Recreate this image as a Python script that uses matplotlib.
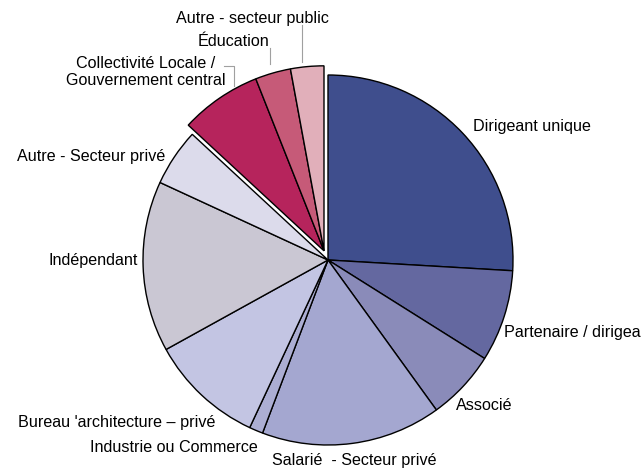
import matplotlib
matplotlib.use("Agg")
import matplotlib.pyplot as plt
import numpy as np

plt.rcParams["font.family"] = ["Liberation Sans", "DejaVu Sans"]

# share of respondents by employment status (%), clockwise from 12 o'clock
categories = [
    "Dirigeant unique",
    "Partenaire / dirigeant",
    "Associé",
    "Salarié  - Secteur privé",
    "Industrie ou Commerce",
    "Bureau 'architecture – privé",
    "Indépendant",
    "Autre - Secteur privé",
    "Collectivité Locale /\nGouvernement central",
    "Éducation",
    "Autre - secteur public",
]
values = [25.9, 8.0, 6.1, 15.7, 1.2, 10.0, 14.9, 5.0, 7.1, 3.1, 2.9]
public_sector = [False] * 8 + [True] * 3

colors = ["#3f4e8d", "#6468a0", "#8a8bb9", "#a4a7d0", "#acaed3", "#c3c5e3",
          "#cac7d3", "#dcdbeb", "#b6245c", "#c65a78", "#e1afba"]

# label anchor (pixel x, pixel y from top, alignment)
label_pos = [
    (473, 127, "left"), (504, 333, "left"), (456, 406, "left"),
    (272, 460, "left"), (258, 447, "right"), (215, 423, "right"),
    (138, 261, "right"), (165, 157, "right"), (146, 72, "center"),
    (269, 42, "right"), (329, 18, "right"),
]

W, H = 641, 468
CX, CY, R = 328, H - 260, 185
EXPLODE = 10

fig = plt.figure(figsize=(W / 100, H / 100), dpi=100)
ax = fig.add_axes([0, 0, 1, 1])

wedges, _ = ax.pie(values, colors=colors, startangle=90, counterclock=False,
                   center=(CX, CY), radius=R,
                   wedgeprops=dict(edgecolor="black", linewidth=1.0))
ax.set_xlim(0, W)
ax.set_ylim(0, H)
ax.set_aspect("equal")
ax.axis("off")

# the public-sector slices are pulled out together along their common bisector
tot = sum(values)
pub_frac = sum(v for v, p in zip(values, public_sector) if p) / tot
mid = np.deg2rad(90 + pub_frac * 360 / 2)
dx, dy = EXPLODE * np.cos(mid), EXPLODE * np.sin(mid)
for w, p in zip(wedges, public_sector):
    if p:
        w.set_center((CX + dx, CY + dy))

for name, (x, y, ha) in zip(categories, label_pos):
    ax.text(x, H - y, name, ha=ha, va="center", fontsize=11.6, color="black",
            linespacing=1.2)

# leader lines for the small public-sector labels
lc = "#a0a0a0"
ax.plot([224, 234, 234], [H - 66, H - 66, H - 86], color=lc, lw=0.8)
ax.plot([270, 270], [H - 48, H - 64], color=lc, lw=0.8)
ax.plot([302, 302], [H - 25, H - 62], color=lc, lw=0.8)

fig.savefig("out.png", dpi=100)
